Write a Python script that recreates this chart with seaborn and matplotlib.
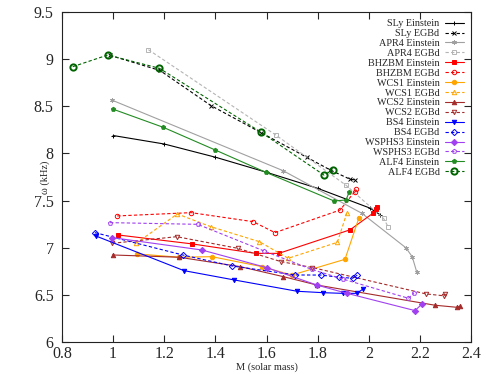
import matplotlib
matplotlib.use("Agg")
import matplotlib.pyplot as plt
import seaborn as sns
import pandas as pd

# --- data (M in solar mass, omega in kHz) ---
sly_ein_m = [1.00, 1.20, 1.40, 1.60, 1.80, 2.005, 2.044]
sly_ein_w = [8.19, 8.10, 7.96, 7.80, 7.63, 7.42, 7.35]
sly_egb_m = [0.988, 1.183, 1.383, 1.579, 1.757, 1.849, 1.927, 1.946]
sly_egb_w = [9.04, 8.88, 8.507, 8.22, 7.96, 7.825, 7.726, 7.72]

apr4_ein_m = [0.994, 1.665, 1.973, 2.145, 2.17, 2.188]
apr4_ein_w = [8.567, 7.817, 7.365, 7.0, 6.905, 6.74]
apr4_egb_m = [1.138, 1.636, 1.91, 2.058, 2.077]
apr4_egb_w = [9.10, 8.196, 7.665, 7.31, 7.217]

bhzbm_ein_m = [1.02, 1.31, 1.558, 1.648, 1.927, 2.016, 2.03, 2.031]
bhzbm_ein_w = [7.135, 7.04, 6.94, 6.94, 7.19, 7.365, 7.41, 7.435]
bhzbm_egb_m = [1.016, 1.305, 1.548, 1.633, 1.888, 1.945, 1.95]
bhzbm_egb_w = [7.337, 7.372, 7.276, 7.16, 7.40, 7.594, 7.62]

wcs1_ein_m = [1.095, 1.258, 1.386, 1.581, 1.699, 1.907, 1.962]
wcs1_ein_w = [6.934, 6.899, 6.905, 6.80, 6.71, 6.877, 7.32]
wcs1_egb_m = [1.09, 1.251, 1.382, 1.572, 1.685, 1.877, 1.914]
wcs1_egb_w = [7.047, 7.358, 7.223, 7.064, 6.888, 7.057, 7.365]

wcs2_ein_m = [0.998, 1.258, 1.496, 1.666, 1.796, 2.259, 2.345, 2.358]
wcs2_ein_w = [6.923, 6.899, 6.80, 6.693, 6.605, 6.39, 6.368, 6.38]
wcs2_egb_m = [0.997, 1.249, 1.487, 1.656, 1.779, 2.224, 2.294, 2.298]
wcs2_egb_w = [7.047, 7.117, 6.994, 6.853, 6.79, 6.51, 6.49, 6.51]

bs4_ein_m = [0.932, 1.277, 1.474, 1.72, 1.822, 1.898, 1.955, 1.976]
bs4_ein_w = [7.125, 6.757, 6.658, 6.538, 6.523, 6.516, 6.516, 6.56]
bs4_egb_m = [0.929, 1.272, 1.466, 1.712, 1.812, 1.884, 1.937, 1.955]
bs4_egb_w = [7.16, 6.923, 6.806, 6.711, 6.71, 6.687, 6.676, 6.71]

wsphs3_ein_m = [0.994, 1.347, 1.601, 1.796, 1.914, 2.181, 2.207]
wsphs3_ein_w = [7.108, 6.976, 6.789, 6.605, 6.517, 6.333, 6.40]
wsphs3_egb_m = [0.988, 1.331, 1.59, 1.777, 1.898, 2.155, 2.177]
wsphs3_egb_w = [7.266, 7.248, 6.966, 6.77, 6.668, 6.464, 6.517]

alf4_ein_m = [0.998, 1.196, 1.399, 1.597, 1.864, 1.911, 1.924]
alf4_ein_w = [8.471, 8.277, 8.037, 7.80, 7.496, 7.506, 7.594]
alf4_egb_m = [0.842, 0.979, 1.181, 1.579, 1.825, 1.859]
alf4_egb_w = [8.92, 9.044, 8.903, 8.224, 7.77, 7.825]

# label, m, w, color, linestyle, marker, filled
series = [
    ("SLy Einstein", sly_ein_m, sly_ein_w, "black", "-", "+", True),
    ("SLy EGBd", sly_egb_m, sly_egb_w, "black", "--", "x", True),
    ("APR4 Einstein", apr4_ein_m, apr4_ein_w, "#a0a0a0", "-", (6, 2, 0), True),
    ("APR4 EGBd", apr4_egb_m, apr4_egb_w, "#b4b4b4", "--", "s", False),
    ("BHZBM Einstein", bhzbm_ein_m, bhzbm_ein_w, "red", "-", "s", True),
    ("BHZBM EGBd", bhzbm_egb_m, bhzbm_egb_w, "red", "--", "o", False),
    ("WCS1 Einstein", wcs1_ein_m, wcs1_ein_w, "orange", "-", "o", True),
    ("WCS1 EGBd", wcs1_egb_m, wcs1_egb_w, "orange", "--", "^", False),
    ("WCS2 Einstein", wcs2_ein_m, wcs2_ein_w, "brown", "-", "^", True),
    ("WCS2 EGBd", wcs2_egb_m, wcs2_egb_w, "brown", "--", "v", False),
    ("BS4 Einstein", bs4_ein_m, bs4_ein_w, "blue", "-", "v", True),
    ("BS4 EGBd", bs4_egb_m, bs4_egb_w, "blue", "--", "D", False),
    ("WSPHS3 Einstein", wsphs3_ein_m, wsphs3_ein_w, "#a040f0", "-", "D", True),
    ("WSPHS3 EGBd", wsphs3_egb_m, wsphs3_egb_w, "#a040f0", "--", "p", False),
    ("ALF4 Einstein", alf4_ein_m, alf4_ein_w, "#228b22", "-", "p", True),
    ("ALF4 EGBd", alf4_egb_m, alf4_egb_w, "#006400", "--", "o", False),
]

sns.set_style("ticks")
plt.rcParams["font.family"] = ["Liberation Serif", "DejaVu Serif"]

fig = plt.figure(figsize=(4.86, 3.74), dpi=100)
ax = fig.add_axes([62 / 486, 1 - 342 / 374, 409 / 486, 330 / 374])

for label, m, w, color, ls, marker, filled in series:
    df = pd.DataFrame({"M": m, "w": w})
    big = label == "ALF4 EGBd"
    ms = 4.5 if big else 3.2
    mew = 1.4 if big else 0.7
    sns.lineplot(data=df, x="M", y="w", ax=ax, sort=False, estimator=None,
                 color=color, linewidth=0.8, marker=marker,
                 markersize=ms, markeredgewidth=mew, markeredgecolor=color,
                 markerfacecolor=color if filled else "none",
                 label=label)
    if ls == "--":
        ax.lines[-1].set_dashes([3, 2])

ax.set_xlim(0.8, 2.4)
ax.set_ylim(6, 9.5)
ax.set_xticks([0.8, 1.0, 1.2, 1.4, 1.6, 1.8, 2.0, 2.2, 2.4])
ax.set_xticklabels(["0.8", "1", "1.2", "1.4", "1.6", "1.8", "2", "2.2", "2.4"])
ax.set_yticks([6, 6.5, 7, 7.5, 8, 8.5, 9, 9.5])
ax.set_yticklabels(["6", "6.5", "7", "7.5", "8", "8.5", "9", "9.5"])
ax.tick_params(direction="in", top=True, right=True, labelsize=11.5,
               length=5, width=0.8)
ax.tick_params(axis="x", pad=3)
ax.tick_params(axis="y", pad=6)
for sp in ax.spines.values():
    sp.set_linewidth(0.8)
    sp.set_color("#222222")

ax.set_xlabel("M (solar mass)", fontsize=7.5)
ax.xaxis.set_label_coords(0.5, -0.062)
ax.set_ylabel("ω (kHz)", fontsize=7.5)
ax.yaxis.set_label_coords(-0.03, 0.5)

leg = ax.legend(loc="upper right", frameon=False, fontsize=7.3,
                markerfirst=False, handlelength=1.9, labelspacing=0.08,
                borderaxespad=0.3, handletextpad=0.5)
for t in leg.get_texts():
    t.set_ha("right")
leg._legend_box.align = "right"

fig.savefig("out.png", dpi=100)
